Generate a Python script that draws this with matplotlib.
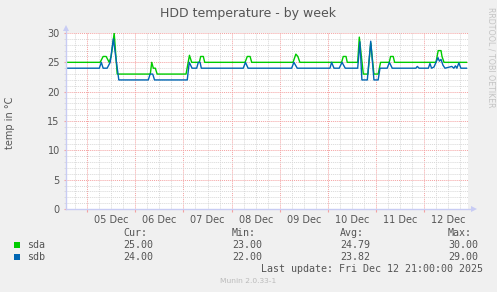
import matplotlib
matplotlib.use('Agg')
import matplotlib.pyplot as plt
import matplotlib.dates as mdates
from matplotlib.patches import Rectangle
from matplotlib.ticker import MultipleLocator, FuncFormatter
import pandas as pd

W, H = 497, 292
BG = '#f0f0f0'
TXT = '#555555'
SDA_COLOR = '#00cc00'
SDB_COLOR = '#0066b3'

# sda (time, degrees C)
sda_times = ['12-04 13:30', '12-05 06:30', '12-05 08:00', '12-05 09:30', '12-05 11:00',
             '12-05 12:00', '12-05 13:30', '12-05 15:00', '12-06 07:30', '12-06 08:12',
             '12-06 09:00', '12-06 10:00', '12-06 10:54', '12-07 01:18', '12-07 03:00',
             '12-07 04:06', '12-07 07:54', '12-07 08:36', '12-07 09:54', '12-07 10:36',
             '12-08 06:42', '12-08 07:48', '12-08 09:12', '12-08 10:00', '12-09 06:36',
             '12-09 08:00', '12-09 09:00', '12-09 10:00', '12-10 06:48', '12-10 07:36',
             '12-10 09:00', '12-10 09:36', '12-10 14:48', '12-10 15:36', '12-10 17:36',
             '12-10 19:54', '12-10 21:18', '12-10 22:54', '12-11 01:00', '12-11 02:12',
             '12-11 06:30', '12-11 07:12', '12-11 08:30', '12-11 09:12', '12-12 05:48',
             '12-12 06:54', '12-12 08:18', '12-12 08:48', '12-12 09:48', '12-12 21:00']
sda_vals = [25, 25, 26, 26, 25,
            26, 30, 23, 23, 25,
            24, 24, 23, 23, 26.2,
            25, 25, 26, 26, 25,
            25, 26, 26, 25, 25,
            26.4, 26, 25, 25, 26,
            26, 25, 25, 29.3, 23,
            23, 28.3, 23, 23, 25,
            25, 26, 26, 25, 25,
            27, 27, 26, 25, 25]

# sdb
sdb_times = ['12-04 13:30', '12-05 06:06', '12-05 07:06', '12-05 08:00', '12-05 10:00',
             '12-05 11:30', '12-05 13:06', '12-05 15:48', '12-06 06:30', '12-06 07:24',
             '12-06 08:42', '12-06 09:36', '12-07 01:54', '12-07 02:54', '12-07 04:18',
             '12-07 06:36', '12-07 07:24', '12-07 08:18', '12-07 08:54', '12-08 05:48',
             '12-08 06:54', '12-08 08:12', '12-09 05:54', '12-09 07:00', '12-09 08:42',
             '12-10 01:00', '12-10 01:48', '12-10 03:00', '12-10 05:36', '12-10 07:00',
             '12-10 08:36', '12-10 14:48', '12-10 15:54', '12-10 16:54', '12-10 19:36',
             '12-10 21:18', '12-10 22:54', '12-11 01:00', '12-11 01:54', '12-11 05:30',
             '12-11 06:36', '12-11 08:00', '12-11 19:48', '12-11 20:30', '12-11 21:24',
             '12-12 02:00', '12-12 02:48', '12-12 03:36', '12-12 04:48', '12-12 05:48',
             '12-12 06:48', '12-12 07:30', '12-12 08:18', '12-12 09:18', '12-12 10:18',
             '12-12 13:42', '12-12 14:42', '12-12 15:30', '12-12 16:12', '12-12 17:12',
             '12-12 18:12', '12-12 21:00']
sdb_vals = [24, 24, 25, 24, 24,
            25, 29, 22, 22, 23,
            23, 22, 22, 25, 24,
            24, 25, 25, 24, 24,
            25, 24, 24, 25, 24,
            24, 25, 24, 24, 25,
            24, 24, 28.5, 22, 22,
            28.6, 22, 22, 24, 24,
            25, 24, 24, 24.3, 24,
            24, 24.8, 24, 24.2, 25,
            25.8, 25.2, 25.5, 24.5, 24,
            24.3, 24, 24.4, 24, 24.9,
            24, 24]

series = ['sda', 'sdb']
cur = ['25.00', '24.00']
mins = ['23.00', '22.00']
avgs = ['24.79', '23.82']
maxs = ['30.00', '29.00']


def to_dt(ts):
    return pd.to_datetime(['2025-' + t for t in ts])


def fx(px):
    return px / W


def fy(py):
    return 1 - py / H


fig = plt.figure(figsize=(W / 100, H / 100), dpi=100, facecolor=BG)
ax = fig.add_axes([fx(66), fy(209), fx(468) - fx(66), fy(33) - fy(209)])
ax.set_facecolor('white')

ax.plot(to_dt(sda_times), sda_vals, color=SDA_COLOR, lw=1.0, zorder=3)
ax.plot(to_dt(sdb_times), sdb_vals, color=SDB_COLOR, lw=1.0, zorder=4)

ax.set_xlim(pd.Timestamp('2025-12-04 13:30'), pd.Timestamp('2025-12-12 21:45'))
ax.set_ylim(0, 30)

# grid: red dotted for major, grey dotted for minor
ax.xaxis.set_major_locator(mdates.DayLocator())
ax.xaxis.set_minor_locator(mdates.HourLocator(byhour=[0, 6, 12, 18]))
ax.xaxis.set_major_formatter(FuncFormatter(lambda x, p: ''))
ax.xaxis.set_minor_formatter(FuncFormatter(
    lambda x, p: mdates.num2date(x).strftime('%d %b') if mdates.num2date(x).hour == 12 else ''))
ax.yaxis.set_major_locator(MultipleLocator(5))
ax.yaxis.set_minor_locator(MultipleLocator(1))
ax.set_axisbelow(True)
ax.grid(which='major', color='#f4a0a0', ls=(0, (1, 1)), lw=0.7)
ax.grid(which='minor', color='#d8d8d8', ls=(0, (1, 1)), lw=0.7)

ax.tick_params(axis='x', which='major', length=2.5, color='#f4a0a0', pad=1.5)
ax.tick_params(axis='x', which='minor', length=0, pad=4.5, labelsize=7, labelcolor=TXT)
ax.tick_params(axis='y', which='major', length=1.5, color='#f4a0a0', pad=3, labelsize=7,
               labelcolor=TXT)
ax.tick_params(axis='y', which='minor', length=1.5, color='#d8d8d8')

for s in ax.spines.values():
    s.set_visible(False)
axis_col = '#c8ccf4'
ax.plot([0, 0], [0, 1.02], transform=ax.transAxes, color=axis_col, lw=1, clip_on=False, zorder=5)
ax.plot([0, 1.01], [0, 0], transform=ax.transAxes, color=axis_col, lw=1, clip_on=False, zorder=5)
ax.plot([0], [1.03], transform=ax.transAxes, marker='^', ms=4, color=axis_col, mew=0, clip_on=False)
ax.plot([1.015], [0], transform=ax.transAxes, marker='>', ms=4, color=axis_col, mew=0, clip_on=False)

# texts
fig.text(fx(248), fy(13), 'HDD temperature - by week', ha='center', va='center', fontsize=9, color=TXT)
fig.text(fx(10), fy(123), 'temp in °C', rotation=90, ha='center', va='center', fontsize=7, color=TXT)
fig.text(fx(491), fy(57), 'RRDTOOL / TOBI OETIKER', rotation=270, ha='center', va='center',
         fontsize=5.7, color='#c4c4c4')

mono = dict(family='DejaVu Sans Mono', fontsize=7.2, color=TXT, va='center')
cols = [123, 232, 340, 448]
for x, h in zip(cols, ['Cur:', 'Min:', 'Avg:', 'Max:']):
    fig.text(fx(x), fy(233.5), h, ha='left', **mono)

colors = [SDA_COLOR, SDB_COLOR]
for i, name in enumerate(series):
    yy = 245 + i * 12.3
    fig.add_artist(Rectangle((fx(14), fy(yy + 3)), 6 / W, 6 / H, transform=fig.transFigure,
                             facecolor=colors[i], edgecolor='none'))
    fig.text(fx(27), fy(yy), name, ha='left', **mono)
    for x, v in zip(cols, [cur[i], mins[i], avgs[i], maxs[i]]):
        fig.text(fx(x), fy(yy), v, ha='left', **mono)

fig.text(fx(483), fy(269.5), 'Last update: Fri Dec 12 21:00:00 2025', ha='right', **mono)
fig.text(fx(248), fy(281), 'Munin 2.0.33-1', ha='center', va='center', fontsize=5.4, color='#bbbbbb')

fig.savefig('out.png', dpi=100, facecolor=BG)
